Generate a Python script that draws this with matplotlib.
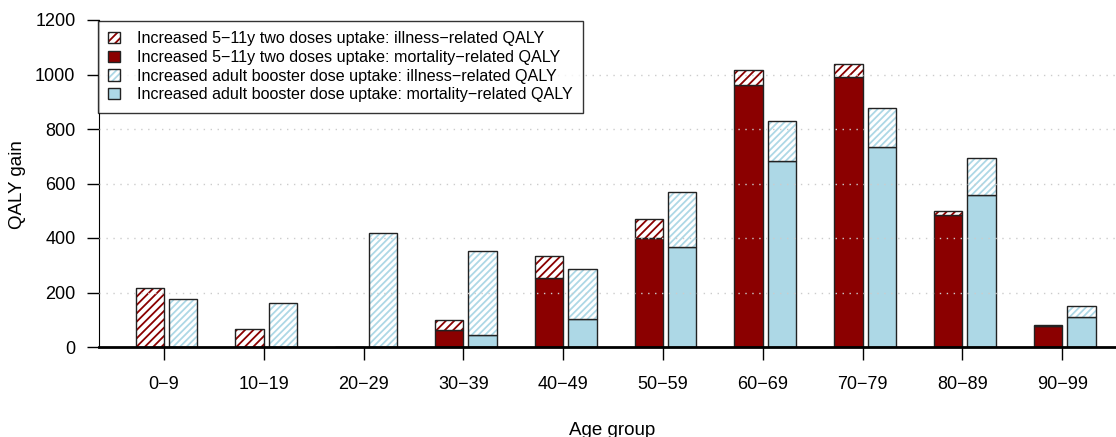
import numpy as np
import matplotlib.pyplot as plt
from matplotlib.patches import Patch

plt.rcParams['font.family'] = ['Liberation Sans', 'DejaVu Sans']
plt.rcParams['hatch.linewidth'] = 1.3

age_groups = ["0\u22129", "10\u221219", "20\u221229", "30\u221239", "40\u221249",
              "50\u221259", "60\u221269", "70\u221279", "80\u221289", "90\u221299"]

# 5-11y two doses uptake
kid_mort = [0, 0, 0, 61, 254, 401, 963, 992, 486, 78]
kid_total = [217, 65, 0, 98, 335, 471, 1018, 1039, 500, 79]
# adult booster dose uptake
adult_mort = [0, 0, 0, 43, 104, 367, 684, 735, 559, 110]
adult_total = [175, 161, 418, 351, 286, 569, 828, 876, 692, 150]

red = '#8B0000'
blue = '#ADD8E6'
edge = '#222222'

kid_ill = np.array(kid_total) - np.array(kid_mort)
adult_ill = np.array(adult_total) - np.array(adult_mort)

fig = plt.figure(figsize=(11.16, 4.37), dpi=100)
ax = fig.add_axes([99 / 1116, 90 / 437, 1017 / 1116, 327 / 437])

x = np.arange(len(age_groups))
w = 0.285
xr = x - w / 2
xb = x + 0.05 + w / 2

def stack(xpos, mort, ill, color, hatch):
    ax.bar(xpos, mort, w, color=color, edgecolor=edge, lw=1, zorder=2)
    ax.bar(xpos, ill, w, bottom=mort, color='white', edgecolor=color, hatch=hatch, lw=0, zorder=2)
    ax.bar(xpos, ill, w, bottom=mort, fill=False, edgecolor=edge, lw=1, zorder=3)

stack(xr, kid_mort, kid_ill, red, '////')
stack(xb, adult_mort, adult_ill, blue, '/////')

for yv in [200, 400, 600, 800, 1000]:
    ax.axhline(yv, color='#cccccc', ls=(0, (1, 4)), lw=1, zorder=4)

ax.set_xlim((99 - 164) / 99.8, (1116 - 164) / 99.8)
ax.set_ylim(0, 1200)
ax.set_yticks(np.arange(0, 1201, 200))
ax.set_xticks(x)
ax.set_xticklabels(age_groups)
ax.tick_params(axis='both', labelsize=13, length=9, width=1, direction='out', pad=8, colors='black')
ax.tick_params(axis='x', pad=12)
for s in ['top', 'right']:
    ax.spines[s].set_visible(False)
ax.spines['left'].set_bounds(0, 1200)
ax.spines['bottom'].set_linewidth(2)
ax.spines['bottom'].set_zorder(5)

fig.text(18 / 1116, (437 - 185) / 437, 'QALY gain', rotation=90, ha='center', va='center', fontsize=13.5)
fig.text(612 / 1116, 2 / 437, 'Age group', ha='center', va='baseline', fontsize=13.5)

h1 = (Patch(facecolor='white', edgecolor=red, hatch='////', lw=0), Patch(fill=False, edgecolor=edge, lw=1))
h2 = Patch(facecolor=red, edgecolor=edge, lw=1)
h3 = (Patch(facecolor='white', edgecolor=blue, hatch='/////', lw=0), Patch(fill=False, edgecolor=edge, lw=1))
h4 = Patch(facecolor=blue, edgecolor=edge, lw=1)
labels = ["Increased 5\u221211y two doses uptake: illness\u2212related QALY",
          "Increased 5\u221211y two doses uptake: mortality\u2212related QALY",
          "Increased adult booster dose uptake: illness\u2212related QALY",
          "Increased adult booster dose uptake: mortality\u2212related QALY"]
leg = ax.legend([h1, h2, h3, h4], labels, loc='upper left',
                bbox_to_anchor=(98 / 1116, (437 - 21) / 437), bbox_transform=fig.transFigure,
                fontsize=11.6, frameon=True, fancybox=False, edgecolor='black',
                handlelength=0.7, handleheight=0.7, handletextpad=1.05,
                labelspacing=0.22, borderpad=0.65, borderaxespad=0)
leg.get_frame().set_linewidth(1)
leg.set_zorder(6)

fig.savefig('out.png', dpi=100)
